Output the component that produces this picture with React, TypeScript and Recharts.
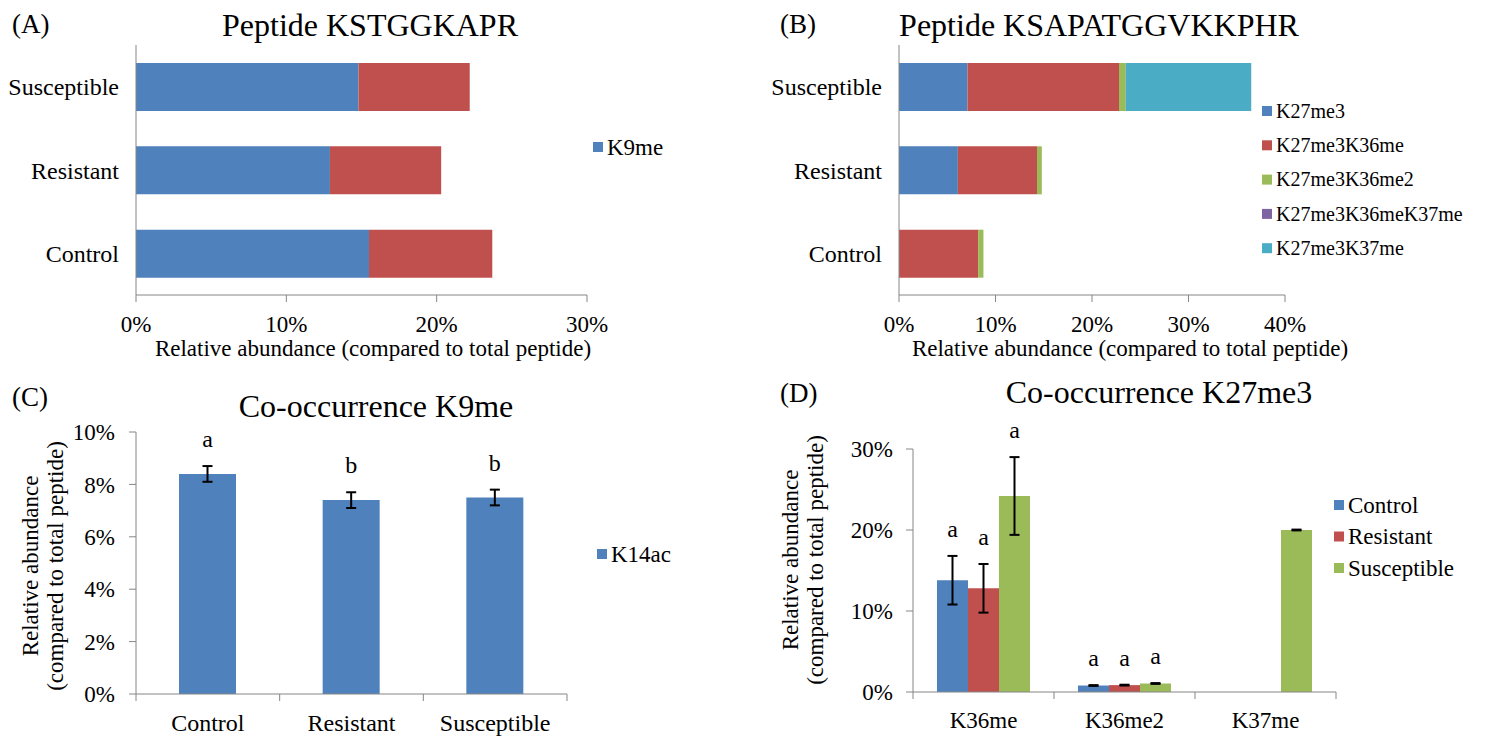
import React from 'react';
import { BarChart, Bar, XAxis, YAxis, ErrorBar, LabelList } from 'recharts';

const FONT = 'Liberation Serif, DejaVu Serif, serif';
const AXIS = '#868686';
const BLUE = '#4F81BD';
const RED = '#C0504D';
const GREEN = '#9BBB59';
const PURPLE = '#8064A2';
const CYAN = '#4BACC6';

// (A) Peptide KSTGGKAPR
const groupsA = ['Susceptible', 'Resistant', 'Control'];
const k9me = [14.8, 12.9, 15.5];
const otherA = [7.4, 7.4, 8.2];
const ticksA = [0, 10, 20, 30];

// (B) Peptide KSAPATGGVKKPHR
const groupsB = ['Susceptible', 'Resistant', 'Control'];
const seriesB = ['K27me3', 'K27me3K36me', 'K27me3K36me2', 'K27me3K36meK37me', 'K27me3K37me'];
const colorsB = [BLUE, RED, GREEN, PURPLE, CYAN];
const k27me3 = [7.1, 6.1, 0];
const k27me3k36me = [15.7, 8.2, 8.2];
const k27me3k36me2 = [0.7, 0.5, 0.55];
const k27me3k36mek37me = [0, 0, 0];
const k27me3k37me = [13.0, 0, 0];
const ticksB = [0, 10, 20, 30, 40];

// (C) Co-occurrence K9me
const groupsC = ['Control', 'Resistant', 'Susceptible'];
const k14ac = [8.4, 7.4, 7.5];
const k14acErr = [0.3, 0.3, 0.3];
const lettersC = ['a', 'b', 'b'];
const ticksC = [0, 2, 4, 6, 8, 10];

// (D) Co-occurrence K27me3
const marksD = ['K36me', 'K36me2', 'K37me'];
const seriesD = ['Control', 'Resistant', 'Susceptible'];
const colorsD = [BLUE, RED, GREEN];
const controlD = [13.8, 0.8, 0];
const controlErr = [3.0, 0.05, null];
const resistantD = [12.8, 0.85, 0];
const resistantErr = [3.0, 0.05, null];
const susceptibleD = [24.2, 1.05, 20.0];
const susceptibleErr = [4.8, 0.05, 0.05];
const lettersControl = ['a', 'a', ''];
const lettersResistant = ['a', 'a', ''];
const lettersSusceptible = ['a', 'a', ''];
const ticksD = [0, 10, 20, 30];

const dataA = groupsA.map((g, i) => ({ group: g, k9me: k9me[i], other: otherA[i] }));
const valuesB = [k27me3, k27me3k36me, k27me3k36me2, k27me3k36mek37me, k27me3k37me];
const dataB = groupsB.map((g, i) => {
  const row: any = { group: g };
  seriesB.forEach((s, j) => (row[s] = valuesB[j][i]));
  return row;
});
const dataC = groupsC.map((g, i) => ({ group: g, k14ac: k14ac[i], err: k14acErr[i] }));
const dataD = marksD.map((m, i) => ({
  mark: m,
  Control: controlD[i],
  ControlErr: controlErr[i],
  Resistant: resistantD[i],
  ResistantErr: resistantErr[i],
  Susceptible: susceptibleD[i],
  SusceptibleErr: susceptibleErr[i],
}));
const errD = [controlErr, resistantErr, susceptibleErr];
const lettersD = [lettersControl, lettersResistant, lettersSusceptible];

const pct = (v: number) => `${v}%`;
const tickFont = { fontFamily: FONT, fontSize: 23, fill: '#000' };

// significance letter sitting above the error bar
const letterLabel = (letters: string[], errs: (number | null)[], lift: number) => (props: any) => {
  const { x, y, width, height, value, index } = props;
  const t = letters[index];
  if (!t || !value) return null;
  const top = Number(y) - ((errs[index] || 0) / Number(value)) * Number(height);
  return (
    <text x={Number(x) + Number(width) / 2} y={top - lift} textAnchor="middle" fontFamily={FONT} fontSize={24} fill="#000">
      {t}
    </text>
  );
};

// category tick with Excel-style marks between categories
const categoryTick = (band: number, drop: number, size: number) => (props: any) => {
  const { x, y, payload, index } = props;
  return (
    <g>
      {index === 0 && <line x1={x - band / 2} x2={x - band / 2} y1={y} y2={y + 7} stroke={AXIS} />}
      <line x1={x + band / 2} x2={x + band / 2} y1={y} y2={y + 7} stroke={AXIS} />
      <text x={x} y={y + drop} textAnchor="middle" fontFamily={FONT} fontSize={size} fill="#000">
        {payload.value}
      </text>
    </g>
  );
};

const Swatch = ({ x, y, color, label, size }: any) => (
  <g>
    <rect x={x} y={y - 5} width={10} height={10} fill={color} />
    <text x={x + 14} y={y + size * 0.33} fontFamily={FONT} fontSize={size} fill="#000">
      {label}
    </text>
  </g>
);

const YTitle = ({ x, y }: any) => (
  <g transform={`translate(${x},${y}) rotate(-90)`}>
    <text x={0} y={0} textAnchor="middle" fontFamily={FONT} fontSize={23} fill="#000">
      Relative abundance
    </text>
    <text x={0} y={25} textAnchor="middle" fontFamily={FONT} fontSize={23} fill="#000">
      (compared to total peptide)
    </text>
  </g>
);

export default function App() {
  return (
    <div style={{ position: 'relative', width: 1489, height: 738, background: '#fff', overflow: 'hidden', fontFamily: FONT }}>
      <style>{'body{margin:0}'}</style>

      <div style={{ position: 'absolute', left: 0, top: 0 }}>
        <BarChart width={740} height={370} data={dataA} layout="vertical" margin={{ top: 45, right: 153, bottom: 0, left: 0 }} barSize={48}>
          <XAxis type="number" domain={[0, 30]} ticks={ticksA} tickFormatter={pct} height={75} stroke={AXIS} tickSize={7} tickMargin={14} tick={tickFont} />
          <YAxis type="category" dataKey="group" width={136} stroke={AXIS} tickLine={false} tickSize={0} tickMargin={17} tick={{ ...tickFont, fontSize: 24 }} />
          <Bar dataKey="k9me" stackId="a" fill={BLUE} isAnimationActive={false} />
          <Bar dataKey="other" stackId="a" fill={RED} isAnimationActive={false} />
        </BarChart>
      </div>

      <div style={{ position: 'absolute', left: 740, top: 0 }}>
        <BarChart width={749} height={370} data={dataB} layout="vertical" margin={{ top: 45, right: 204, bottom: 0, left: 0 }} barSize={48}>
          <XAxis type="number" domain={[0, 40]} ticks={ticksB} tickFormatter={pct} height={75} stroke={AXIS} tickSize={7} tickMargin={14} tick={tickFont} />
          <YAxis type="category" dataKey="group" width={159} stroke={AXIS} tickLine={false} tickSize={0} tickMargin={17} tick={{ ...tickFont, fontSize: 24 }} />
          {seriesB.map((s, j) => (
            <Bar key={s} dataKey={s} stackId="b" fill={colorsB[j]} isAnimationActive={false} />
          ))}
        </BarChart>
      </div>

      <div style={{ position: 'absolute', left: 0, top: 370 }}>
        <BarChart width={740} height={368} data={dataC} margin={{ top: 62, right: 173, bottom: 0, left: 0 }} barSize={57}>
          <XAxis dataKey="group" height={44} stroke={AXIS} tickLine={false} tickSize={0} tickMargin={0} tick={categoryTick(431 / 3, 37, 24)} interval={0} />
          <YAxis type="number" domain={[0, 10]} ticks={ticksC} tickFormatter={pct} width={136} stroke={AXIS} tickSize={7} tickMargin={14} tick={tickFont} />
          <Bar dataKey="k14ac" fill={BLUE} isAnimationActive={false}>
            <ErrorBar dataKey="err" width={5} stroke="#000" strokeWidth={2} />
            <LabelList dataKey="k14ac" content={letterLabel(lettersC, k14acErr, 19)} />
          </Bar>
        </BarChart>
      </div>

      <div style={{ position: 'absolute', left: 740, top: 370 }}>
        <BarChart width={749} height={368} data={dataD} margin={{ top: 79, right: 153, bottom: 0, left: 0 }} barSize={31} barGap={0}>
          <XAxis dataKey="mark" height={46} stroke={AXIS} tickLine={false} tickSize={0} tickMargin={0} tick={categoryTick(423 / 3, 36, 23)} interval={0} />
          <YAxis type="number" domain={[0, 30]} ticks={ticksD} tickFormatter={pct} width={173} stroke={AXIS} tickSize={7} tickMargin={13} tick={tickFont} />
          {seriesD.map((s, j) => (
            <Bar key={s} dataKey={s} fill={colorsD[j]} isAnimationActive={false}>
              <ErrorBar dataKey={`${s}Err`} width={5} stroke="#000" strokeWidth={2} />
              <LabelList dataKey={s} content={letterLabel(lettersD[j], errD[j], 19)} />
            </Bar>
          ))}
        </BarChart>
      </div>

      <svg width={1489} height={738} style={{ position: 'absolute', left: 0, top: 0, pointerEvents: 'none' }}>
        <g fontFamily={FONT} fill="#000">
          <text x={12} y={33} fontSize={27}>(A)</text>
          <text x={370} y={36} fontSize={32} textAnchor="middle">Peptide KSTGGKAPR</text>
          <text x={373} y={356} fontSize={23} textAnchor="middle">Relative abundance (compared to total peptide)</text>

          <text x={780} y={33} fontSize={27}>(B)</text>
          <text x={1099} y={36} fontSize={32} textAnchor="middle">Peptide KSAPATGGVKKPHR</text>
          <text x={1130} y={356} fontSize={23} textAnchor="middle">Relative abundance (compared to total peptide)</text>

          <text x={12} y={406} fontSize={27}>(C)</text>
          <text x={376} y={417} fontSize={32} textAnchor="middle">Co-occurrence K9me</text>

          <text x={780} y={402} fontSize={27}>(D)</text>
          <text x={1159} y={403} fontSize={32} textAnchor="middle">Co-occurrence K27me3</text>
        </g>

        <Swatch x={593} y={147} color={BLUE} label="K9me" size={23} />
        {seriesB.map((s, j) => (
          <Swatch key={s} x={1262} y={111 + j * 34.3} color={colorsB[j]} label={s} size={20} />
        ))}
        <Swatch x={597} y={554} color={BLUE} label="K14ac" size={23} />
        {seriesD.map((s, j) => (
          <Swatch key={s} x={1334} y={505 + j * 31.5} color={colorsD[j]} label={s} size={23} />
        ))}

        <YTitle x={38} y={566} />
        <YTitle x={798} y={560} />
      </svg>
    </div>
  );
}
